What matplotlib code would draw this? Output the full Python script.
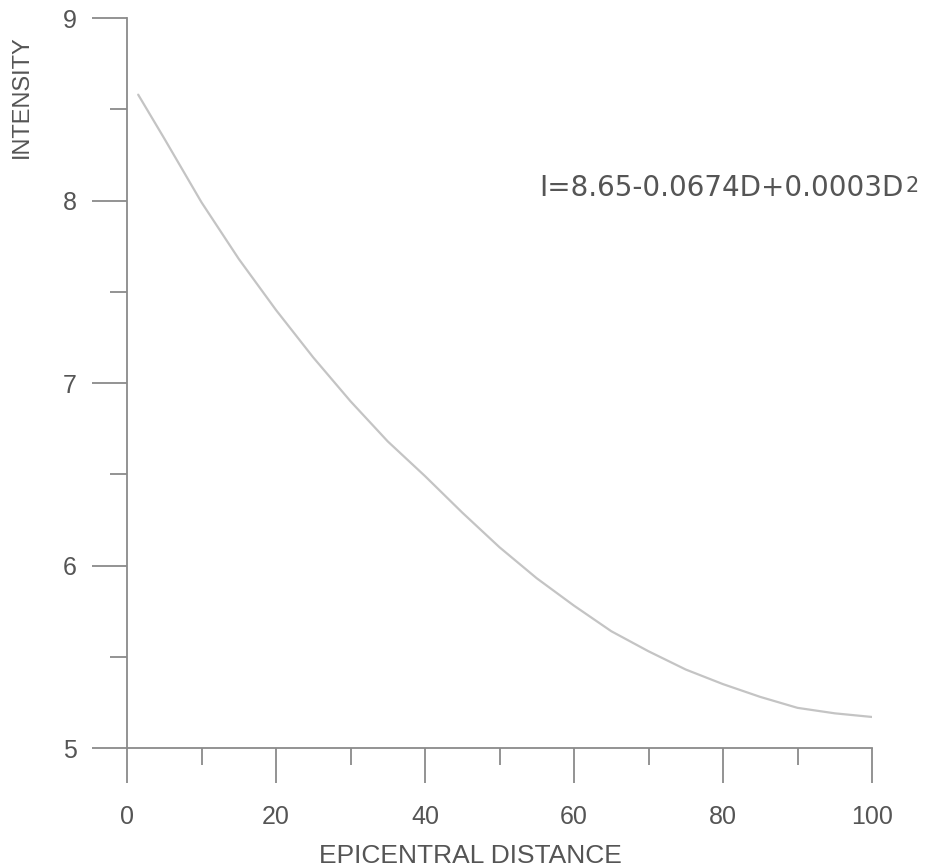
import numpy as np
import matplotlib.pyplot as plt
from matplotlib.ticker import MultipleLocator

# intensity attenuation curve
distance = [1.5, 5, 10, 15, 20, 25, 30, 35, 40, 45, 50,
            55, 60, 65, 70, 75, 80, 85, 90, 95, 100]
intensity = [8.58, 8.34, 7.99, 7.68, 7.40, 7.14, 6.90, 6.68, 6.49, 6.29, 6.10,
             5.93, 5.78, 5.64, 5.53, 5.43, 5.35, 5.28, 5.22, 5.19, 5.17]

x_ticks = [0, 20, 40, 60, 80, 100]
y_ticks = [5, 6, 7, 8, 9]
equation = "I=8.65-0.0674D+0.0003D"

plt.rcParams['font.family'] = ['Liberation Sans', 'DejaVu Sans']
axis_col = '#8a8a8a'
text_col = '#555555'

fig = plt.figure(figsize=(9.47, 8.68), dpi=100)
ax = fig.add_axes([127/947, 1 - 748/868, 745/947, 730/868])

ax.plot(distance, intensity, color='#c4c4c4', lw=1.6, solid_capstyle='round',
        solid_joinstyle='round')

ax.set_xlim(0, 100)
ax.set_ylim(5, 9)
ax.set_xticks(x_ticks)
ax.set_yticks(y_ticks)
ax.xaxis.set_minor_locator(MultipleLocator(10))
ax.yaxis.set_minor_locator(MultipleLocator(0.5))

for s in ['top', 'right']:
    ax.spines[s].set_visible(False)
for s in ['left', 'bottom']:
    ax.spines[s].set_color(axis_col)
    ax.spines[s].set_linewidth(1.3)

ax.tick_params(which='major', direction='out', length=25, width=1.3, color=axis_col,
               labelcolor=text_col, labelsize=18)
ax.tick_params(which='minor', direction='out', length=12.5, width=1.3, color=axis_col)
ax.tick_params(axis='x', which='major', pad=16)
ax.tick_params(axis='y', which='major', pad=11)

# equation, wide font, with the square as a raised small digit
eq = ax.text(55.4, 8.07, equation, ha='left', va='center', fontsize=20,
             color=text_col, family='DejaVu Sans')
fig.canvas.draw()
bb = eq.get_window_extent()
ax.annotate('2', xy=(bb.x1, bb.y1), xycoords='figure pixels', xytext=(1, -2),
            textcoords='offset pixels', ha='left', va='top', fontsize=15,
            color=text_col, family='DejaVu Sans')

fig.text(470/947, 1 - 856/868, 'EPICENTRAL DISTANCE', ha='center', va='center',
         fontsize=19, color=text_col)
fig.text(22/947, 1 - 97/868, 'INTENSITY', ha='center', va='center', rotation=90,
         fontsize=17, color=text_col)

fig.savefig('out.png', dpi=100, facecolor='white')
